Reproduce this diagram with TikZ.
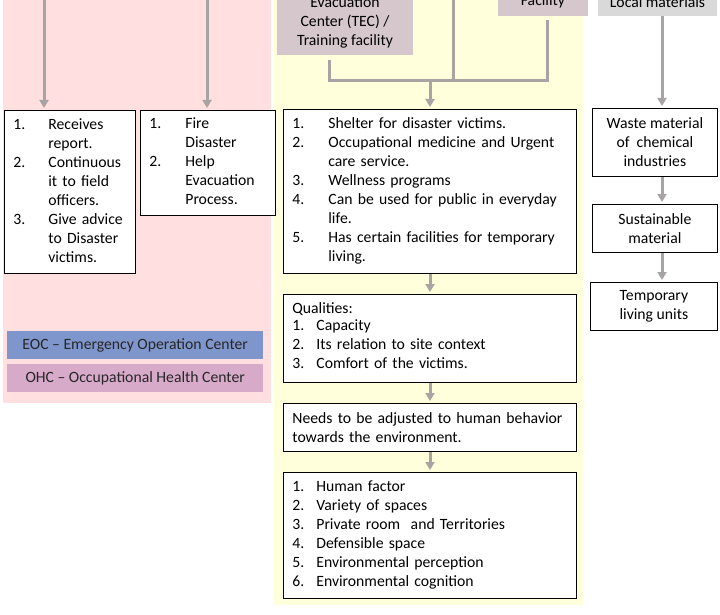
\documentclass[tikz,border=0pt]{standalone}
\usepackage{fontspec}
\setmainfont{Carlito}
\usetikzlibrary{arrows.meta}
\definecolor{bgPink}{HTML}{FFDFDF}
\definecolor{bgYellow}{HTML}{FFFFDC}
\definecolor{boxMauve}{HTML}{D5C7CC}
\definecolor{boxGrey}{HTML}{D9D9D9}
\definecolor{eocBlue}{HTML}{7F96CC}
\definecolor{ohcPink}{HTML}{D8AACA}
\definecolor{arrowGrey}{HTML}{A8A4A4}

\begin{document}
\begin{tikzpicture}[
  x=1pt, y=-1pt,
  font=\fontsize{15.7}{19}\selectfont,
  box/.style={draw=black, line width=0.8pt, fill=white, anchor=north west, inner xsep=9pt, inner ysep=0pt, align=left},
  cbox/.style={draw=black, line width=0.8pt, fill=white, anchor=north west, inner sep=0pt, align=center},
  topbox/.style={anchor=south, inner xsep=0pt, inner ysep=6.5pt, align=center},
  legend/.style={anchor=north west, inner sep=0pt, minimum width=256pt, minimum height=28pt, text=black!85},
  link/.style={draw=arrowGrey, line width=3pt},
  flow/.style={link, -{Triangle[length=8pt, width=9pt]}, shorten >=2pt}
]
\useasboundingbox (0,0) rectangle (720,615);
\clip (0,0) rectangle (720,615);

\fill[bgPink] (3,-20) rectangle (271,403);
\fill[bgYellow] (274,-20) rectangle (583,605);

% top sources
\node[topbox, fill=boxMauve, minimum width=136pt] (tec) at (345,55) {Evacuation\\Center (TEC) /\\Training facility};
\node[topbox, fill=boxMauve, minimum width=90pt, inner ysep=8pt] (fac) at (543,16) {Facility};
\node[topbox, fill=boxGrey, minimum width=119pt, inner ysep=8pt] (local) at (657.5,16) {Local materials};

% left column
\node[box, text width=113pt, minimum height=163pt] (eocList) at (4,110) {\begin{tabular}{@{}p{35pt}@{}l@{}}
1. & Receives\\ & report.\\
2. & Continuous\\ & it to field\\ & officers.\\
3. & Give advice\\ & to Disaster\\ & victims.
\end{tabular}};
\node[box, text width=117pt, minimum height=105pt] (fireList) at (140,110) {\begin{tabular}{@{}p{36pt}@{}l@{}}
1. & Fire\\ & Disaster\\
2. & Help\\ & Evacuation\\ & Process.
\end{tabular}};
\node[legend, fill=eocBlue] (eocKey) at (7,331) {EOC – Emergency Operation Center};
\node[legend, fill=ohcPink] (ohcKey) at (7,364) {OHC – Occupational Health Center};

% middle column
\node[box, text width=275pt, minimum height=164pt] (mainList) at (283,109) {\begin{tabular}{@{}p{36pt}@{}l@{}}
1. & Shelter for disaster victims.\\
2. & Occupational medicine and Urgent\\ & care service.\\
3. & Wellness programs\\
4. & Can be used for public in everyday\\ & life.\\
5. & Has certain facilities for temporary\\ & living.
\end{tabular}};
\node[box, text width=275pt, minimum height=88pt] (qualList) at (283,294) {Qualities:\\[1pt]\begin{tabular}{@{}p{24pt}@{}l@{}}
1. & Capacity\\
2. & Its relation to site context\\
3. & Comfort of the victims.
\end{tabular}};
\node[box, text width=275pt, minimum height=48pt] (needs) at (283,403) {Needs to be adjusted to human behavior\\towards the environment.};
\node[box, text width=275pt, minimum height=126pt] (humanList) at (283,472) {\begin{tabular}{@{}p{24pt}@{}l@{}}
1. & Human factor\\
2. & Variety of spaces\\
3. & Private room~ and Territories\\
4. & Defensible space\\
5. & Environmental perception\\
6. & Environmental cognition
\end{tabular}};

% right column
\node[cbox, minimum width=125pt, minimum height=68pt] (waste) at (592,108) {Waste material\\of~ chemical\\industries};
\node[cbox, minimum width=125pt, minimum height=48pt] (sustain) at (592,204) {Sustainable\\material};
\node[cbox, minimum width=127pt, minimum height=48pt] (units) at (590,282) {Temporary\\living units};

% connectors
\coordinate (eocIn) at (44,-10);
\coordinate (fireIn) at (207,-10);
\draw[flow] (eocIn) -- (eocIn |- eocList.north);
\draw[flow] (fireIn) -- (fireIn |- fireList.north);

\coordinate (tecDrop) at (329,81);
\coordinate (facDrop) at (547,81);
\coordinate (midIn) at (453,-10);
\coordinate (mergeOut) at (430,81);
\draw[link, shorten <=5pt, shorten >=4pt] (tec.south -| tecDrop) -- (tecDrop) -- (facDrop) -- (fac.south -| facDrop);
\draw[link] (midIn) -- (midIn |- tecDrop);
\draw[flow] (mergeOut) -- (mergeOut |- mainList.north);
\draw[flow] (mainList.south -| mergeOut) -- (qualList.north -| mergeOut);
\draw[flow] (qualList.south -| mergeOut) -- (needs.north -| mergeOut);
\draw[flow] (needs.south -| mergeOut) -- (humanList.north -| mergeOut);

\coordinate (matX) at (662,0);
\draw[flow] (local.south -| matX) -- (waste.north -| matX);
\draw[flow] (waste.south -| matX) -- (sustain.north -| matX);
\draw[flow] (sustain.south -| matX) -- (units.north -| matX);
\end{tikzpicture}
\end{document}
